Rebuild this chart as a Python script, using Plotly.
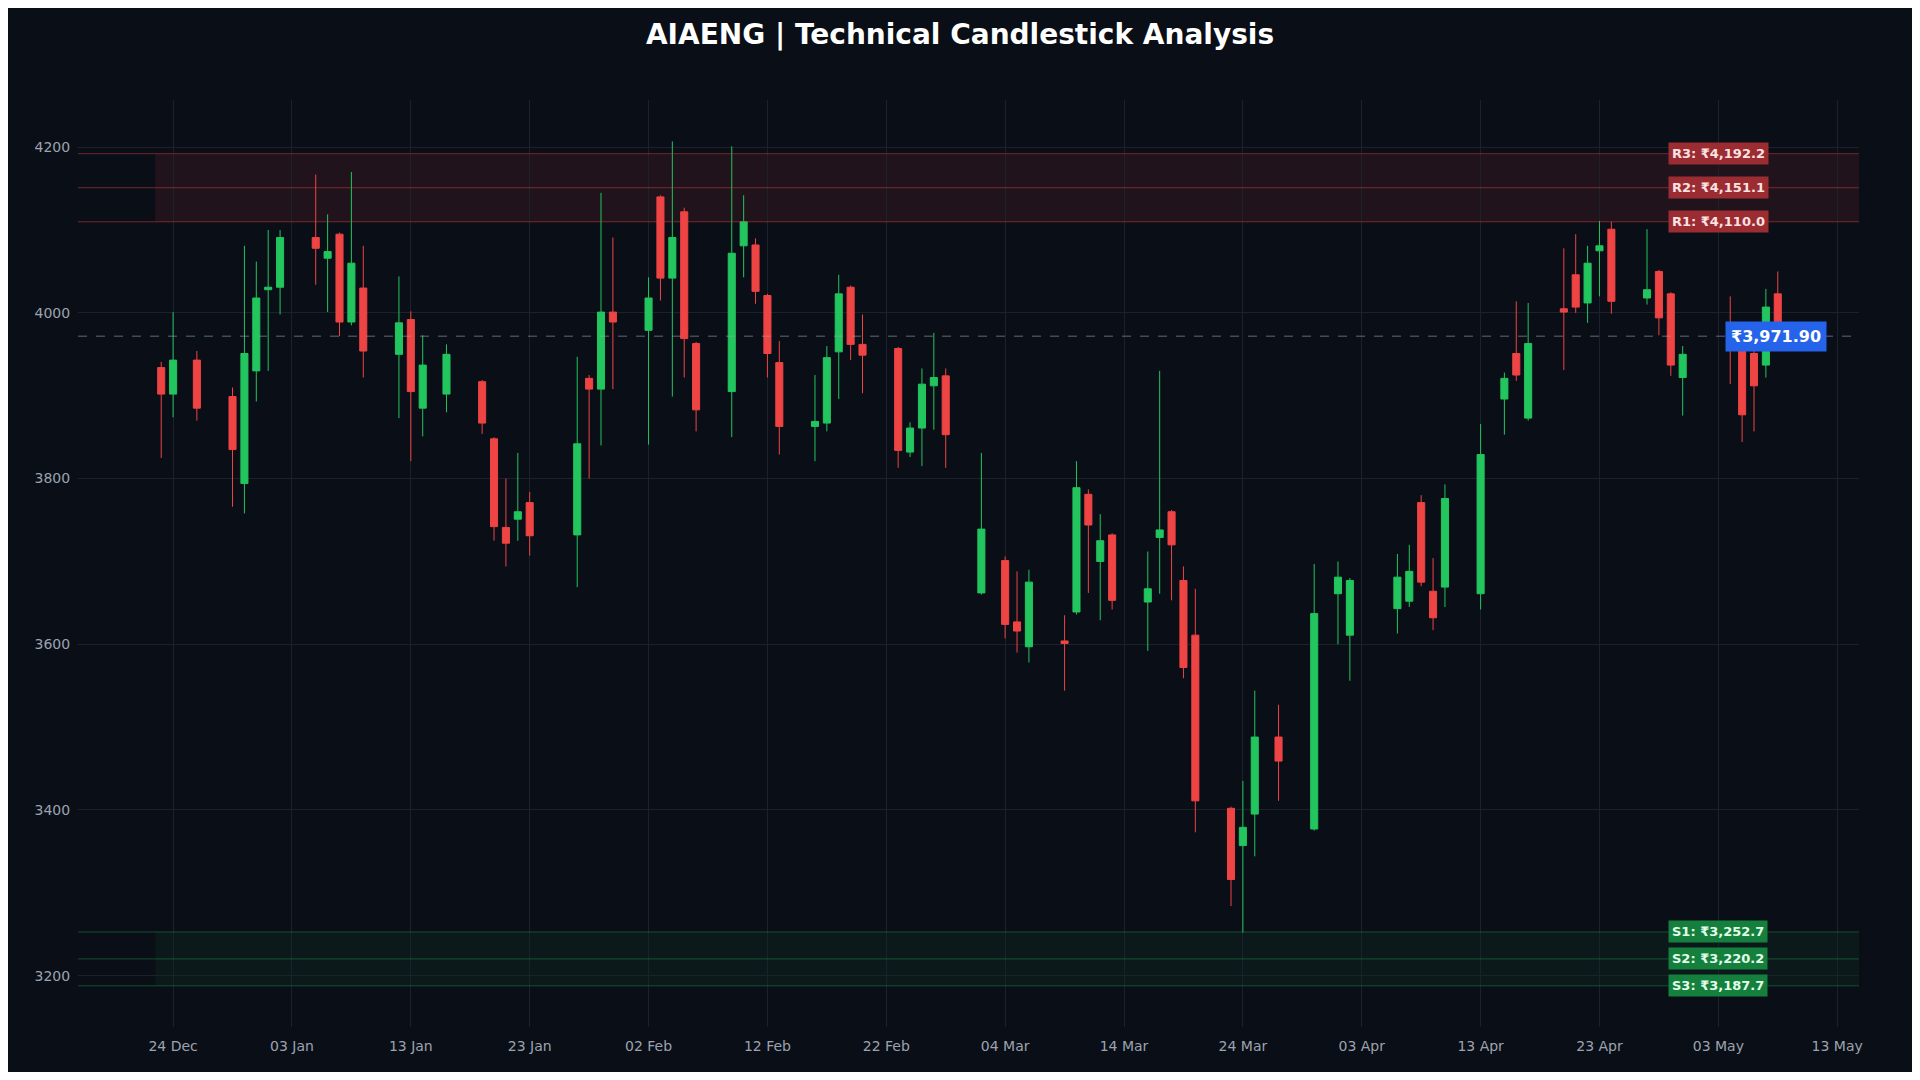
import plotly.graph_objects as go

dates = [
    "2025-12-23", "2025-12-24", "2025-12-26", "2025-12-29", "2025-12-30", "2025-12-31", "2026-01-01", "2026-01-02",
    "2026-01-05", "2026-01-06", "2026-01-07", "2026-01-08", "2026-01-09",
    "2026-01-12", "2026-01-13", "2026-01-14", "2026-01-16",
    "2026-01-19", "2026-01-20", "2026-01-21", "2026-01-22", "2026-01-23",
    "2026-01-27", "2026-01-28", "2026-01-29", "2026-01-30",
    "2026-02-02", "2026-02-03", "2026-02-04", "2026-02-05", "2026-02-06",
    "2026-02-09", "2026-02-10", "2026-02-11", "2026-02-12", "2026-02-13",
    "2026-02-16", "2026-02-17", "2026-02-18", "2026-02-19", "2026-02-20",
    "2026-02-23", "2026-02-24", "2026-02-25", "2026-02-26", "2026-02-27",
    "2026-03-02", "2026-03-04", "2026-03-05", "2026-03-06",
    "2026-03-09", "2026-03-10", "2026-03-11", "2026-03-12", "2026-03-13",
    "2026-03-16", "2026-03-17", "2026-03-18", "2026-03-19", "2026-03-20",
    "2026-03-23", "2026-03-24", "2026-03-25", "2026-03-27",
    "2026-03-30", "2026-04-01", "2026-04-02",
    "2026-04-06", "2026-04-07", "2026-04-08", "2026-04-09", "2026-04-10",
    "2026-04-13", "2026-04-15", "2026-04-16", "2026-04-17",
    "2026-04-20", "2026-04-21", "2026-04-22", "2026-04-23", "2026-04-24",
    "2026-04-27", "2026-04-28", "2026-04-29", "2026-04-30",
    "2026-05-04", "2026-05-05", "2026-05-06", "2026-05-07", "2026-05-08",
]
opens = [3934, 3902, 3943, 3899, 3794, 3930, 4028, 4031, 4091, 4066, 4095, 3989, 4030,
         3950, 3992, 3885, 3902, 3917, 3848, 3741, 3751, 3771, 3732, 3921, 3908, 4001,
         3979, 4140, 4042, 4122, 3963, 3905, 4081, 4082, 4021, 3940, 3863, 3867, 3953, 4031, 3962,
         3957, 3832, 3861, 3912, 3924, 3662, 3701, 3627, 3597, 3604, 3639, 3781, 3700, 3732,
         3651, 3729, 3760, 3677, 3611, 3402, 3357, 3395, 3488, 3377, 3661, 3611,
         3643, 3652, 3771, 3664, 3669, 3661, 3896, 3951, 3873, 4005, 4046, 4012, 4075, 4101,
         4018, 4050, 4023, 3922, 3962, 3962, 3951, 3937, 4023]
highs = [3941, 4001, 3954, 3910, 4081, 4062, 4100, 4100, 4167, 4119, 4097, 4170, 4081,
         4044, 4002, 3973, 3962, 3919, 3850, 3800, 3831, 3784, 3947, 3925, 4145, 4091,
         4043, 4142, 4207, 4127, 3965, 4201, 4142, 4090, 4023, 3966, 3925, 3960, 4046, 4033, 3998,
         3959, 3868, 3933, 3976, 3933, 3831, 3706, 3688, 3690, 3635, 3821, 3787, 3757, 3734,
         3712, 3930, 3762, 3694, 3667, 3404, 3435, 3544, 3527, 3697, 3700, 3680,
         3709, 3720, 3780, 3704, 3793, 3866, 3928, 4014, 4012, 4078, 4095, 4081, 4111, 4110,
         4101, 4052, 4025, 3960, 4020, 3965, 3955, 4029, 4050]
lows = [3825, 3874, 3870, 3766, 3758, 3893, 3930, 3998, 4034, 4001, 3972, 3985, 3922,
        3873, 3821, 3851, 3880, 3854, 3725, 3694, 3725, 3707, 3669, 3800, 3840, 3908,
        3841, 4015, 3899, 3922, 3857, 3850, 4043, 4011, 3922, 3829, 3821, 3857, 3896, 3943, 3903,
        3813, 3826, 3815, 3859, 3813, 3660, 3607, 3590, 3578, 3544, 3636, 3662, 3629, 3642,
        3592, 3661, 3653, 3559, 3373, 3284, 3252, 3344, 3411, 3375, 3600, 3556,
        3613, 3645, 3670, 3617, 3645, 3642, 3853, 3918, 3870, 3931, 4000, 3988, 4020, 3999,
        4010, 3973, 3924, 3876, 3914, 3844, 3857, 3922, 3965]
closes = [3902, 3943, 3885, 3835, 3951, 4018, 4031, 4091, 4078, 4074, 3989, 4060, 3954,
          3988, 3905, 3937, 3950, 3867, 3742, 3722, 3760, 3731, 3842, 3908, 4001, 3989,
          4018, 4042, 4091, 3969, 3883, 4072, 4110, 4026, 3951, 3863, 3869, 3946, 4023, 3962, 3949,
          3834, 3861, 3914, 3922, 3853, 3739, 3624, 3616, 3675, 3601, 3789, 3744, 3725, 3653,
          3667, 3738, 3720, 3572, 3411, 3316, 3379, 3488, 3459, 3637, 3681, 3677,
          3681, 3688, 3675, 3632, 3776, 3829, 3921, 3925, 3963, 4001, 4007, 4060, 4081, 4014,
          4028, 3994, 3937, 3950, 3959, 3877, 3912, 4007, 3971.9]

resistance = {"R1": 4110.0, "R2": 4151.1, "R3": 4192.2}
support = {"S1": 3252.7, "S2": 3220.2, "S3": 3187.7}
last_price = 3971.90
tick_dates = ["2025-12-24", "2026-01-03", "2026-01-13", "2026-01-23", "2026-02-02", "2026-02-12",
              "2026-02-22", "2026-03-04", "2026-03-14", "2026-03-24", "2026-04-03", "2026-04-13",
              "2026-04-23", "2026-05-03", "2026-05-13"]

GREEN = "#22c55e"
RED = "#ef4444"
BG = "#0a0e17"
GRID = "#1c212b"

fig = go.Figure()
fig.add_trace(go.Candlestick(
    x=dates, open=opens, high=highs, low=lows, close=closes,
    increasing=dict(line=dict(color=GREEN, width=1), fillcolor=GREEN),
    decreasing=dict(line=dict(color=RED, width=1), fillcolor=RED),
    whiskerwidth=0, showlegend=False,
))

zone_start = "2025-12-22 12:00"
fig.add_shape(type="rect", xref="x", yref="y", x0=zone_start, x1="2026-05-14 20:00",
              y0=resistance["R1"], y1=resistance["R3"], fillcolor="rgba(239,68,68,0.10)",
              line_width=0, layer="below")
fig.add_shape(type="rect", xref="x", yref="y", x0=zone_start, x1="2026-05-14 20:00",
              y0=support["S3"], y1=support["S1"], fillcolor="rgba(34,197,94,0.06)",
              line_width=0, layer="below")

for name, val in resistance.items():
    fig.add_hline(y=val, line=dict(color="rgba(239,68,68,0.45)", width=1))
    fig.add_annotation(x="2026-05-03", y=val, xref="x", yref="y",
                       text=f"<b>{name}: ₹{val:,.1f}</b>", showarrow=False,
                       font=dict(color="#fde2e2", size=13, family="DejaVu Sans"),
                       bgcolor="#9b2c32", borderpad=3)
for name, val in support.items():
    fig.add_hline(y=val, line=dict(color="rgba(34,197,94,0.35)", width=1))
    fig.add_annotation(x="2026-05-03", y=val, xref="x", yref="y",
                       text=f"<b>{name}: ₹{val:,.1f}</b>", showarrow=False,
                       font=dict(color="#e2fde9", size=13, family="DejaVu Sans"),
                       bgcolor="#15803d", borderpad=3)

fig.add_hline(y=last_price, line=dict(color="rgba(160,165,175,0.6)", width=1, dash="dash"))
fig.add_annotation(x=0.982, y=last_price, xref="paper", yref="y",
                   text=f"<b>₹{last_price:,.2f}</b>", showarrow=False,
                   font=dict(color="white", size=16, family="DejaVu Sans"),
                   bgcolor="#2563eb", borderpad=5)

fig.update_layout(
    width=1904, height=1064,
    paper_bgcolor=BG, plot_bgcolor=BG,
    boxgap=0.15,
    margin=dict(l=70, r=53, t=92, b=45),
    title=dict(text="<b>AIAENG | Technical Candlestick Analysis</b>", x=0.5, y=0.985,
               xanchor="center", font=dict(color="white", size=28, family="DejaVu Sans")),
    xaxis=dict(type="date", range=["2025-12-16", "2026-05-14 20:00"], rangeslider_visible=False,
               tickvals=tick_dates, tickformat="%d %b", showgrid=True, gridcolor=GRID,
               tickfont=dict(color="#9ca3af", size=14, family="DejaVu Sans"), zeroline=False,
               ticks="outside", tickcolor=BG, ticklen=6),
    yaxis=dict(range=[3138, 4257], dtick=200, showgrid=True, gridcolor=GRID,
               tickfont=dict(color="#9ca3af", size=14, family="DejaVu Sans"), zeroline=False,
               ticks="outside", tickcolor=BG, ticklen=4),
)

fig.write_html("out.html")
